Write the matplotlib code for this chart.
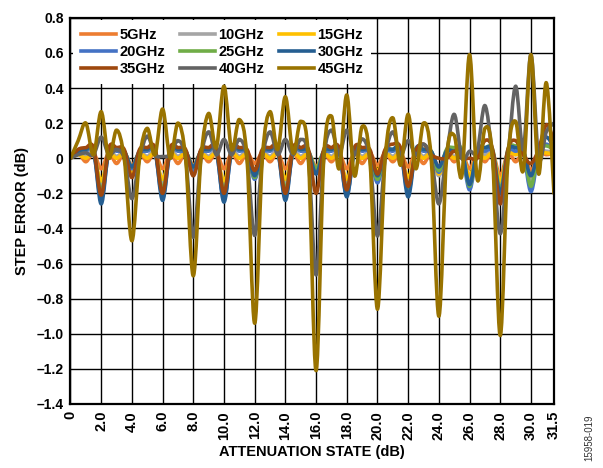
import numpy as np
import matplotlib
matplotlib.use("Agg")
import matplotlib.pyplot as plt
from matplotlib.path import Path
from matplotlib.patches import PathPatch
from matplotlib.lines import Line2D

plt.rcParams['font.family'] = ['Liberation Sans', 'DejaVu Sans']
plt.rcParams['font.weight'] = 'bold'
plt.rcParams['axes.labelweight'] = 'bold'

# attenuation states, 0.5 dB steps
states = np.arange(64) * 0.5

freqs = ["5GHz", "10GHz", "15GHz", "20GHz", "25GHz", "30GHz", "35GHz", "40GHz", "45GHz"]
colors = ["#ED7D31", "#A5A5A5", "#FFC000", "#4472C4", "#70AD47",
          "#255E91", "#9E480E", "#636363", "#997300"]

err_5 = [0.00, 0.03, -0.02, 0.03, -0.06, 0.03, -0.03, 0.03,
         -0.04, 0.03, -0.02, 0.03, -0.06, 0.03, -0.03, 0.03,
         -0.04, 0.03, -0.02, 0.03, -0.06, 0.03, -0.03, 0.03,
         -0.03, 0.03, -0.02, 0.03, -0.06, 0.03, -0.03, 0.03,
         -0.05, 0.03, -0.02, 0.03, -0.06, 0.03, -0.03, 0.03,
         -0.04, 0.03, -0.02, 0.03, -0.05, 0.03, -0.03, 0.03,
         -0.05, 0.03, -0.02, 0.03, -0.06, 0.03, -0.02, 0.03,
         -0.10, 0.03, -0.02, 0.03, -0.07, 0.03, 0.02, 0.03]
err_10 = [0.00, 0.03, 0.01, 0.03, -0.16, 0.03, 0.01, 0.03,
          -0.07, 0.03, 0.01, 0.03, -0.15, 0.03, 0.01, 0.03,
          -0.07, 0.03, 0.01, 0.03, -0.16, 0.03, 0.01, 0.03,
          -0.08, 0.03, 0.01, 0.03, -0.15, 0.03, 0.01, 0.03,
          -0.08, 0.03, 0.01, 0.03, -0.15, 0.03, 0.01, 0.03,
          -0.08, 0.03, 0.01, 0.03, -0.14, 0.03, 0.01, 0.03,
          -0.10, 0.03, 0.01, 0.03, -0.12, 0.03, 0.02, 0.03,
          -0.15, 0.03, 0.02, 0.03, -0.12, 0.03, 0.04, 0.03]
err_15 = [0.00, 0.02, 0.00, 0.02, -0.13, 0.02, 0.00, 0.02,
          -0.08, 0.02, 0.00, 0.02, -0.12, 0.02, 0.00, 0.02,
          -0.08, 0.02, 0.00, 0.02, -0.13, 0.02, 0.00, 0.02,
          -0.07, 0.02, 0.00, 0.02, -0.12, 0.02, 0.00, 0.02,
          -0.08, 0.02, 0.00, 0.02, -0.12, 0.02, 0.00, 0.02,
          -0.07, 0.02, 0.00, 0.02, -0.11, 0.02, 0.00, 0.02,
          -0.09, 0.02, 0.00, 0.02, -0.10, 0.02, 0.00, 0.02,
          -0.13, 0.02, 0.02, 0.02, -0.10, 0.02, 0.03, 0.02]
err_20 = [0.00, 0.03, 0.04, 0.04, -0.23, 0.04, 0.04, 0.03,
          -0.06, 0.03, 0.04, 0.04, -0.22, 0.04, 0.04, 0.03,
          -0.07, 0.03, 0.04, 0.04, -0.24, 0.04, 0.04, 0.03,
          -0.12, 0.03, 0.04, 0.04, -0.22, 0.04, 0.04, 0.03,
          -0.08, 0.03, 0.04, 0.04, -0.21, 0.04, 0.04, 0.03,
          -0.14, 0.03, 0.04, 0.04, -0.19, 0.04, 0.04, 0.03,
          -0.08, 0.03, 0.04, 0.03, -0.18, 0.03, 0.04, 0.03,
          -0.22, 0.03, 0.04, 0.03, -0.19, 0.03, 0.08, 0.04]
err_25 = [0.00, 0.04, 0.05, 0.05, -0.19, 0.05, 0.05, 0.04,
          -0.05, 0.04, 0.05, 0.05, -0.18, 0.05, 0.05, 0.04,
          -0.05, 0.04, 0.05, 0.05, -0.19, 0.05, 0.05, 0.04,
          -0.11, 0.04, 0.05, 0.05, -0.18, 0.05, 0.05, 0.04,
          -0.06, 0.04, 0.05, 0.05, -0.18, 0.05, 0.05, 0.04,
          -0.12, 0.04, 0.05, 0.05, -0.17, 0.05, 0.05, 0.04,
          -0.07, 0.05, 0.06, 0.05, -0.16, 0.05, 0.06, 0.05,
          -0.18, 0.05, 0.07, 0.05, -0.16, 0.05, 0.07, 0.05]
err_30 = [0.00, 0.04, 0.05, 0.05, -0.26, 0.05, 0.05, 0.04,
          -0.05, 0.04, 0.05, 0.05, -0.24, 0.05, 0.05, 0.04,
          -0.05, 0.04, 0.05, 0.05, -0.25, 0.05, 0.05, 0.04,
          -0.10, 0.04, 0.05, 0.05, -0.24, 0.05, 0.05, 0.04,
          -0.09, 0.04, 0.05, 0.05, -0.22, 0.05, 0.05, 0.04,
          -0.10, 0.04, 0.05, 0.05, -0.22, 0.05, 0.05, 0.04,
          -0.05, 0.04, 0.04, 0.04, -0.15, 0.04, 0.06, 0.04,
          -0.20, 0.04, 0.06, 0.04, -0.10, 0.05, 0.12, 0.06]
err_35 = [0.00, 0.05, 0.06, 0.06, -0.21, 0.06, 0.06, 0.05,
          -0.11, 0.05, 0.06, 0.06, -0.20, 0.06, 0.06, 0.05,
          -0.10, 0.05, 0.06, 0.06, -0.20, 0.06, 0.06, 0.05,
          -0.07, 0.05, 0.06, 0.06, -0.20, 0.06, 0.06, 0.05,
          -0.20, 0.05, 0.06, 0.06, -0.18, 0.06, 0.06, 0.05,
          -0.09, 0.05, 0.08, 0.06, -0.16, 0.04, 0.08, 0.02,
          0.00, 0.00, 0.04, 0.00, 0.00, 0.00, 0.10, 0.05,
          -0.26, 0.05, 0.10, 0.02, -0.03, 0.05, 0.19, 0.10]
err_40 = [0.00, 0.02, 0.03, 0.02, 0.12, 0.02, 0.05, 0.00,
          -0.23, 0.00, 0.126, 0.02, 0.01, 0.02, 0.10, 0.00,
          -0.45, 0.00, 0.15, 0.02, 0.107, 0.02, 0.107, 0.00,
          -0.44, 0.00, 0.15, 0.02, 0.107, 0.02, 0.107, 0.00,
          -0.665, 0.00, 0.16, 0.02, 0.16, 0.02, 0.11, 0.00,
          -0.443, 0.00, 0.15, 0.02, 0.10, 0.02, 0.08, 0.00,
          -0.26, 0.02, 0.25, 0.00, 0.04, 0.04, 0.30, 0.00,
          -0.43, 0.00, 0.41, 0.05, 0.59, 0.00, 0.15, 0.20]
err_45 = [0.00, 0.10, 0.20, 0.02, 0.265, 0.00, 0.16, 0.00,
          -0.47, 0.00, 0.17, 0.02, 0.28, 0.00, 0.20, 0.00,
          -0.67, 0.00, 0.255, 0.06, 0.41, 0.05, 0.22, 0.00,
          -0.94, 0.00, 0.265, 0.05, 0.35, 0.03, 0.21, 0.00,
          -1.21, 0.00, 0.24, -0.06, 0.36, -0.10, 0.18, 0.00,
          -0.86, 0.00, 0.23, -0.04, 0.25, -0.06, 0.20, 0.00,
          -0.90, 0.00, 0.13, -0.10, 0.59, -0.12, 0.17, 0.00,
          -1.01, 0.00, 0.21, -0.07, 0.59, -0.09, 0.43, -0.20]

series = [err_5, err_10, err_15, err_20, err_25, err_30, err_35, err_40, err_45]

y_ticks = [0.8, 0.6, 0.4, 0.2, 0, -0.2, -0.4, -0.6, -0.8, -1.0, -1.2, -1.4]
x_ticks = [0, 2, 4, 6, 8, 10, 12, 14, 16, 18, 20, 22, 24, 26, 28, 30, 31.5]


def smooth_path(x, y):
    # bezier through the points, like a smoothed spreadsheet line
    pts = np.column_stack([x, y])
    ext = np.vstack([pts[0], pts, pts[-1]])
    verts = [pts[0]]
    codes = [Path.MOVETO]
    for i in range(len(pts) - 1):
        p0, p1, p2, p3 = ext[i], ext[i + 1], ext[i + 2], ext[i + 3]
        verts += [p1 + (p2 - p0) / 6, p2 - (p3 - p1) / 6, p2]
        codes += [Path.CURVE4] * 3
    return Path(verts, codes)


fig = plt.figure(figsize=(6.03, 4.68), dpi=100)
ax = fig.add_axes([0.1169, 0.1368, 0.8018, 0.8252])

handles = []
for vals, c, name in zip(series, colors, freqs):
    ax.add_patch(PathPatch(smooth_path(states, vals), fill=False,
                           edgecolor=c, lw=2.6, capstyle='round', joinstyle='round'))
    handles.append(Line2D([], [], color=c, lw=2.6, label=name))

ax.set_xlim(0, 31.5)
ax.set_ylim(-1.4, 0.8)
ax.set_xticks(x_ticks)
ax.set_xticklabels(["0"] + [f"{t:.1f}" for t in x_ticks[1:]], rotation=90)
ax.set_yticks(y_ticks)
ax.set_yticklabels(["0" if t == 0 else f"{t:.1f}".replace("-", "\u2013") for t in y_ticks])
ax.tick_params(length=0, pad=5, labelsize=10)
ax.tick_params(axis='x', labelsize=10.5)
ax.grid(True, color='black', lw=1.0)
ax.set_axisbelow(True)
for s in ax.spines.values():
    s.set_linewidth(1.6)

ax.set_ylabel("STEP ERROR (dB)", fontsize=10.5, labelpad=5)
ax.set_xlabel("ATTENUATION STATE (dB)", fontsize=10.5, labelpad=4)

# legend fills by column, so reorder to read 5/10/15 across the first row
order = [0, 3, 6, 1, 4, 7, 2, 5, 8]
leg = ax.legend(handles=[handles[i] for i in order], ncol=3, loc='upper left',
                bbox_to_anchor=(0.0, 1.0), frameon=True, fancybox=False, framealpha=1,
                edgecolor='none', facecolor='white', fontsize=10.5, handlelength=2.4,
                handletextpad=0.25, columnspacing=1.0, labelspacing=0.2,
                borderpad=0.55, borderaxespad=0.15)

fig.text(0.978, 0.065, "15958-019", rotation=90, fontsize=7, fontweight='normal',
         color='#333333', ha='center', va='center')

fig.savefig("out.png", dpi=100)
